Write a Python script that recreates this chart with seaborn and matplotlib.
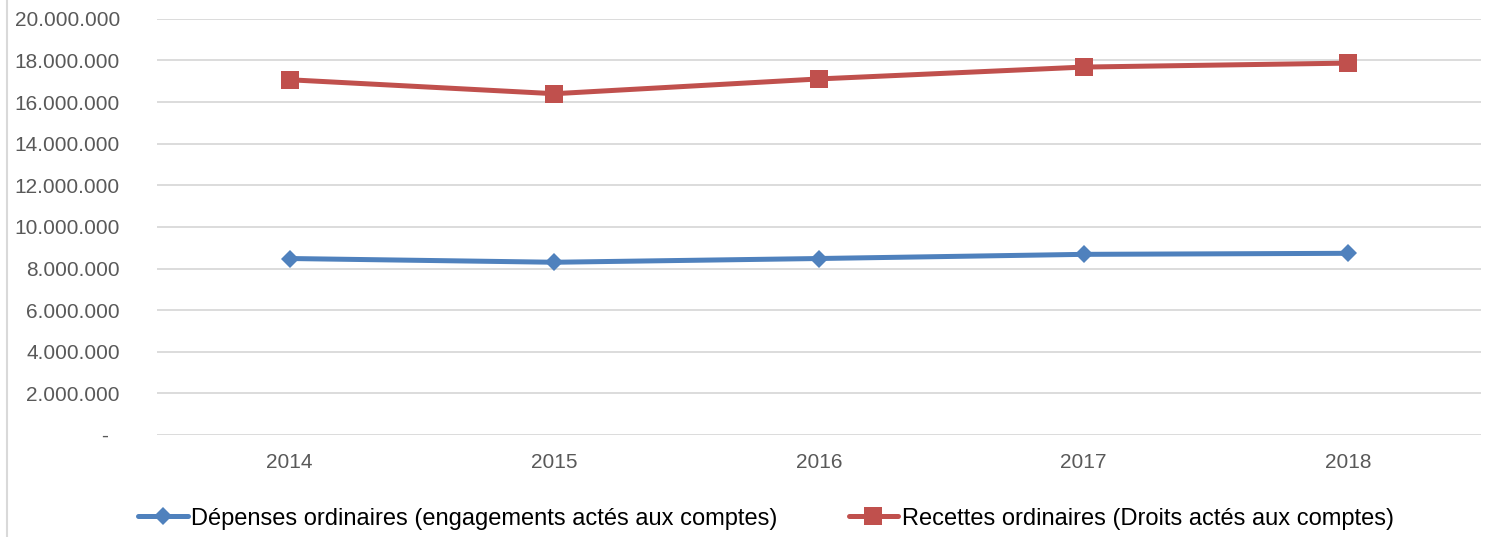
import pandas as pd
import matplotlib
matplotlib.use("Agg")
import matplotlib.pyplot as plt
import seaborn as sns
from matplotlib.ticker import FuncFormatter, MultipleLocator
from matplotlib.lines import Line2D

# Data
years = ["2014", "2015", "2016", "2017", "2018"]
depenses = [8480000, 8300000, 8480000, 8680000, 8730000]
recettes = [17070000, 16400000, 17110000, 17680000, 17870000]
label_dep = "Dépenses ordinaires (engagements actés aux comptes)"
label_rec = "Recettes ordinaires (Droits actés aux comptes)"

df = pd.DataFrame({"year": years, "dep": depenses, "rec": recettes})

sns.set_style("white")
plt.rcParams["font.family"] = ["Liberation Sans", "DejaVu Sans"]

fig = plt.figure(figsize=(14.85, 5.37), dpi=100)
ax = fig.add_axes([0.106, 0.19, 0.891, 0.775])

sns.lineplot(data=df, x="year", y="dep", ax=ax, color="#4F81BD", lw=3.6,
             marker="D", markersize=9, markeredgewidth=0, label=label_dep)
sns.lineplot(data=df, x="year", y="rec", ax=ax, color="#C0504D", lw=3.6,
             marker="s", markersize=12.5, markeredgewidth=0, label=label_rec)

ax.set_ylim(0, 20000000)
ax.set_xlim(-0.5, 4.5)
ax.yaxis.set_major_locator(MultipleLocator(2000000))


def fmt(v, pos):
    if v == 0:
        return "-  "
    return f"{v:,.0f}".replace(",", ".")


ax.yaxis.set_major_formatter(FuncFormatter(fmt))
ax.grid(axis="y", color="#d9d9d9", lw=1.3)
ax.set_axisbelow(True)
for s in ax.spines.values():
    s.set_visible(False)
ax.tick_params(axis="y", length=0, pad=27, labelsize=15, labelcolor="#595959")
ax.tick_params(axis="x", length=0, pad=13, labelsize=15, labelcolor="#595959")
ax.set_xlabel("")
ax.set_ylabel("")

ax.get_legend().remove()
h, l = ax.get_legend_handles_labels()
fig.legend(h, l, loc="center", bbox_to_anchor=(766 / 1485, 0.034), ncol=2,
           frameon=False, fontsize=17, labelcolor="black",
           handlelength=2.1, handletextpad=0.15, columnspacing=3.0)

# outer chart border on the left
fig.add_artist(Line2D([7 / 1485, 7 / 1485], [0, 1], color="#d9d9d9", lw=1.5))

fig.savefig("out.png", dpi=100)
